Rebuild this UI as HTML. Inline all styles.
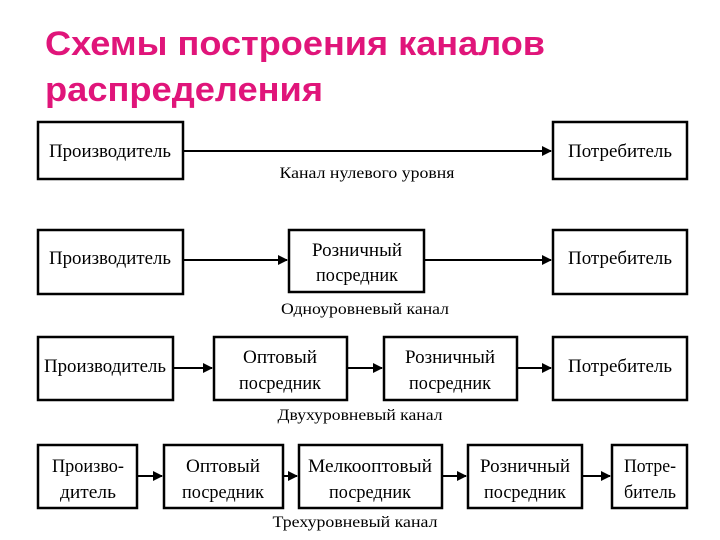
<!DOCTYPE html>
<html><head><meta charset="utf-8"><style>
html,body{margin:0;padding:0;background:#fff;width:720px;height:540px;overflow:hidden}
svg text{font-family:"Liberation Serif",serif;fill:#000}
.t{font-family:"Liberation Sans","DejaVu Sans",sans-serif;font-weight:bold;fill:#e0157a}
</style></head><body>
<svg width="720" height="540" viewBox="0 0 720 540" xmlns="http://www.w3.org/2000/svg">
<defs><marker id="a" markerWidth="10" markerHeight="10" refX="9" refY="5" orient="auto" markerUnits="userSpaceOnUse"><path d="M0,0 L10,5 L0,10z" fill="#000"/></marker></defs>
<text class="t" x="45" y="55" font-size="34" textLength="500" lengthAdjust="spacingAndGlyphs">Схемы построения каналов</text>
<text class="t" x="45" y="101" font-size="34" textLength="278" lengthAdjust="spacingAndGlyphs">распределения</text>
<g fill="none" stroke="#000" stroke-width="2.5">
<rect x="38" y="122" width="145" height="57"/><rect x="553" y="122" width="134" height="57"/>
<rect x="38" y="230" width="145" height="64"/><rect x="289" y="230" width="135" height="62"/><rect x="553" y="230" width="134" height="64"/>
<rect x="38" y="337" width="135" height="63"/><rect x="214" y="337" width="133" height="63"/><rect x="384" y="337" width="133" height="63"/><rect x="553" y="337" width="134" height="63"/>
<rect x="38" y="445" width="99" height="63"/><rect x="164" y="445" width="119" height="63"/><rect x="299" y="445" width="143" height="63"/><rect x="468" y="445" width="114" height="63"/><rect x="612" y="445" width="75" height="63"/>
</g>
<g stroke="#000" stroke-width="2" marker-end="url(#a)">
<line x1="183" y1="151" x2="551" y2="151"/>
<line x1="183" y1="260" x2="287" y2="260"/><line x1="424" y1="260" x2="551" y2="260"/>
<line x1="173" y1="368" x2="212" y2="368"/><line x1="347" y1="368" x2="382" y2="368"/><line x1="517" y1="368" x2="551" y2="368"/>
<line x1="137" y1="476" x2="162" y2="476"/><line x1="283" y1="476" x2="297" y2="476"/><line x1="442" y1="476" x2="466" y2="476"/><line x1="582" y1="476" x2="610" y2="476"/>
</g>
<g font-size="19" text-anchor="middle" lengthAdjust="spacingAndGlyphs">
<text x="110" y="157" textLength="122" lengthAdjust="spacingAndGlyphs">Производитель</text>
<text x="620" y="157" textLength="104" lengthAdjust="spacingAndGlyphs">Потребитель</text>
<text x="367" y="178" font-size="16" textLength="175" lengthAdjust="spacingAndGlyphs">Канал нулевого уровня</text>
<text x="110" y="264" textLength="122" lengthAdjust="spacingAndGlyphs">Производитель</text>
<text x="357" y="256" textLength="90" lengthAdjust="spacingAndGlyphs">Розничный</text>
<text x="357" y="281" textLength="82" lengthAdjust="spacingAndGlyphs">посредник</text>
<text x="620" y="264" textLength="104" lengthAdjust="spacingAndGlyphs">Потребитель</text>
<text x="365" y="314" font-size="16" textLength="168" lengthAdjust="spacingAndGlyphs">Одноуровневый канал</text>
<text x="105" y="372" textLength="122" lengthAdjust="spacingAndGlyphs">Производитель</text>
<text x="280" y="363" textLength="74" lengthAdjust="spacingAndGlyphs">Оптовый</text>
<text x="280" y="389" textLength="82" lengthAdjust="spacingAndGlyphs">посредник</text>
<text x="450" y="363" textLength="90" lengthAdjust="spacingAndGlyphs">Розничный</text>
<text x="450" y="389" textLength="82" lengthAdjust="spacingAndGlyphs">посредник</text>
<text x="620" y="372" textLength="104" lengthAdjust="spacingAndGlyphs">Потребитель</text>
<text x="360" y="420" font-size="16" textLength="165" lengthAdjust="spacingAndGlyphs">Двухуровневый канал</text>
<text x="88" y="472" textLength="72" lengthAdjust="spacingAndGlyphs">Произво-</text>
<text x="88" y="498" textLength="56" lengthAdjust="spacingAndGlyphs">дитель</text>
<text x="223" y="472" textLength="74" lengthAdjust="spacingAndGlyphs">Оптовый</text>
<text x="223" y="498" textLength="82" lengthAdjust="spacingAndGlyphs">посредник</text>
<text x="370" y="472" textLength="124" lengthAdjust="spacingAndGlyphs">Мелкооптовый</text>
<text x="370" y="498" textLength="82" lengthAdjust="spacingAndGlyphs">посредник</text>
<text x="525" y="472" textLength="90" lengthAdjust="spacingAndGlyphs">Розничный</text>
<text x="525" y="498" textLength="82" lengthAdjust="spacingAndGlyphs">посредник</text>
<text x="650" y="472" textLength="52" lengthAdjust="spacingAndGlyphs">Потре-</text>
<text x="650" y="498" textLength="52" lengthAdjust="spacingAndGlyphs">битель</text>
<text x="355" y="527" font-size="16" textLength="165" lengthAdjust="spacingAndGlyphs">Трехуровневый канал</text>
</g>
</svg>
</body></html>
